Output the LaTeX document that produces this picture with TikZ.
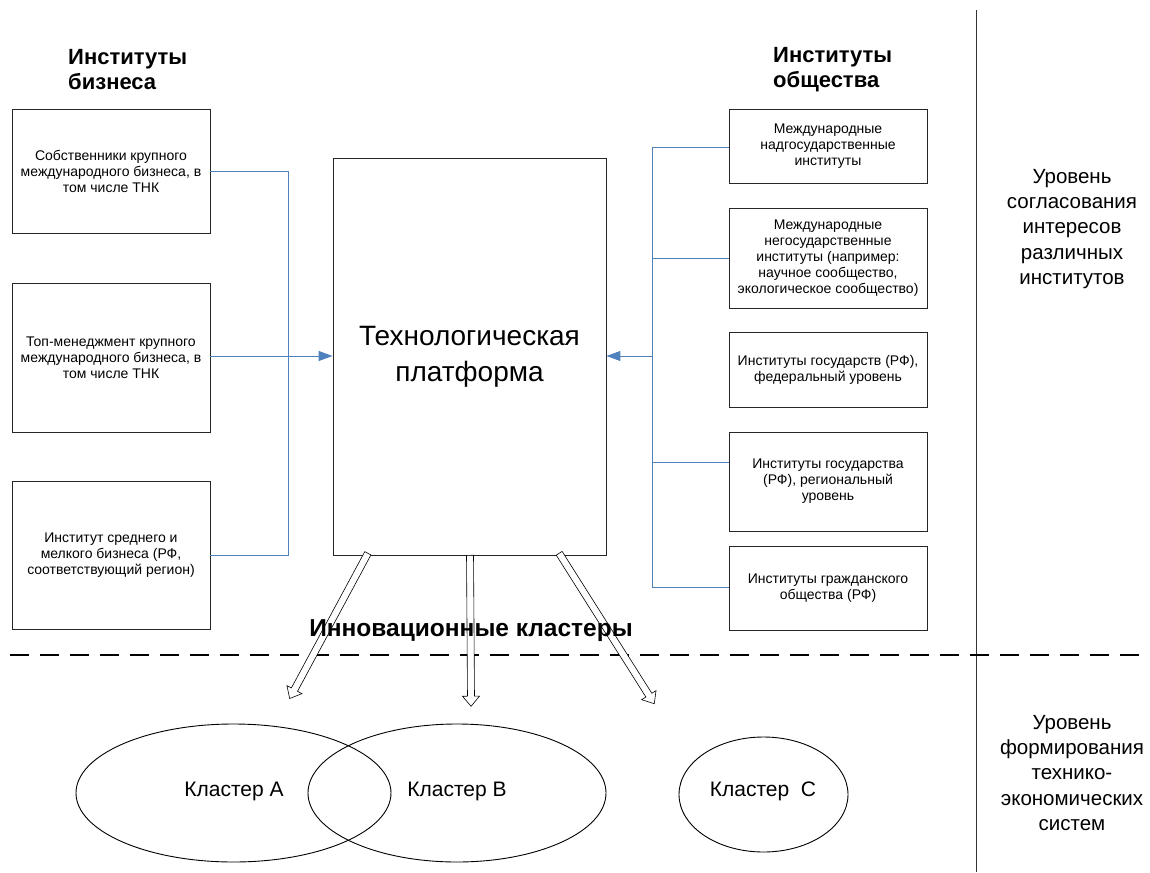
\documentclass[tikz,border=0pt]{standalone}
\usepackage{fontspec}
\setmainfont{Liberation Sans}
\usetikzlibrary{arrows.meta,shapes.geometric,shapes.arrows}
\definecolor{lnblue}{RGB}{79,129,189}
\tikzset{
  box/.style={draw=black!85, line width=0.9pt, fill=white, align=center, inner sep=2pt,
    font=\fontsize{14}{16}\selectfont},
  link/.style={draw=lnblue, line width=1pt},
  linkarrow/.style={link, -{Triangle[length=14pt,width=10pt]}},
  heading/.style={font=\fontsize{22}{25}\selectfont\bfseries, align=left, anchor=west, inner sep=0pt},
  sidelabel/.style={font=\fontsize{20.5}{25.3}\selectfont, align=center, inner sep=0pt},
  hollow/.style={single arrow, draw=black, line width=0.6pt, fill=white, inner sep=3.2pt,
    single arrow head extend=5pt, single arrow tip angle=80, anchor=tail},
  cluster/.style={ellipse, draw=black, line width=0.9pt},
  clabel/.style={font=\fontsize{21}{24}\selectfont, inner sep=0pt}
}
\begin{document}
\begin{tikzpicture}[x=1pt,y=-1pt]
\useasboundingbox (0,0) rectangle (1150,872);
% left boxes
\node[box, minimum width=198pt, minimum height=124pt] (b1) at (111,171) {Собственники крупного\\международного бизнеса, в\\том числе ТНК};
\node[box, minimum width=198pt, minimum height=149pt] (b2) at (111,357.5) {Топ-менеджмент крупного\\международного бизнеса, в\\том числе ТНК};
\node[box, minimum width=198pt, minimum height=148pt] (b3) at (111,555) {Институт среднего и\\мелкого бизнеса (РФ,\\соответствующий регион)};
% center
\node[box, minimum width=273pt, minimum height=397pt, font=\fontsize{28}{36}\selectfont] (tp) at (469.5,356.5) {Технологическая\\платформа};
% right boxes
\node[box, minimum width=198pt, minimum height=74pt] (r1) at (828,146) {Международные\\надгосударственные\\институты};
\node[box, minimum width=198pt, minimum height=100pt] (r2) at (828,258) {Международные\\негосударственные\\институты (например:\\научное сообщество,\\экологическое сообщество)};
\node[box, minimum width=198pt, minimum height=75pt] (r3) at (828,369.5) {Институты государств (РФ),\\федеральный уровень};
\node[box, minimum width=198pt, minimum height=99pt] (r4) at (828,481.5) {Институты государства\\(РФ), региональный\\уровень};
\node[box, minimum width=198pt, minimum height=84pt] (r5) at (828,588) {Институты гражданского\\общества (РФ)};
% headings
\node[heading] (hb) at (68,70) {Институты\\бизнеса};
\node[heading] (ho) at (773,70) {Институты\\общества};
% left connectors
\coordinate (lj) at (288,356);
\draw[link] (b1.east |- 0,171) -| (lj);
\draw[link] (b3.east |- 0,555) -| (lj);
\draw[linkarrow] (b2.east |- 0,356) -- (tp.west |- 0,356);
% right connectors
\coordinate (rj) at (652,356);
\coordinate (rtop) at (652,147);
\coordinate (rbot) at (652,587);
\draw[link] (r1.west |- rtop) -- (rtop) -- (rbot) -- (r5.west |- rbot);
\draw[link] (r2.west |- 0,258) -- (652,258);
\draw[link] (r4.west |- 0,462) -- (652,462);
\draw[linkarrow] (rj) -- (tp.east |- rj);
% separators
\coordinate (vtop) at (976,10);
\coordinate (vbot) at (976,872);
\draw[black!80, line width=1pt] (vtop) -- (vbot);
\coordinate (dl) at (10,655);
\coordinate (dr) at (1150,655);
\draw[black, line width=1.8pt, dash pattern=on 19pt off 11pt] (dl) -- (dr);
% hollow arrows
\node[hollow, rotate=241.7, minimum height=165pt] (a1) at (368,553) {};
\node[hollow, rotate=270.4, minimum height=151pt] (a2) at (470,555) {};
\node[hollow, rotate=302.3, minimum height=178pt] (a3) at (559,553) {};
% title of cluster level
\node[font=\fontsize{24.5}{28}\selectfont\bfseries, inner sep=0pt] (ik) at (471,631) {Инновационные кластеры};
% clusters
\node[cluster, minimum width=315pt, minimum height=138pt] (ca) at (233.5,793) {};
\node[cluster, minimum width=298pt, minimum height=138pt] (cb) at (457,793) {};
\node[cluster, minimum width=169pt, minimum height=115pt] (cc) at (763.5,794.5) {};
\node[clabel] (la) at (234,791) {Кластер A};
\node[clabel] (lb) at (457,791) {Кластер B};
\node[clabel] (lc) at (763,791) {Кластер\ \ C};
% side labels
\node[sidelabel] (s1) at (1072,229) {Уровень\\согласования\\интересов\\различных\\институтов};
\node[sidelabel] (s2) at (1072,773) {Уровень\\формирования\\технико-\\экономических\\систем};
\end{tikzpicture}
\end{document}
